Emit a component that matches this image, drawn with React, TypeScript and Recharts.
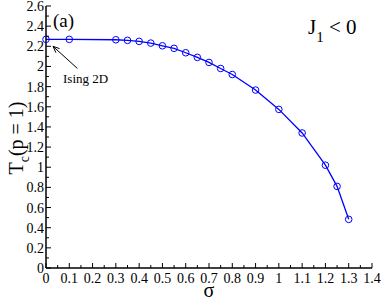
import React from "react";
import { LineChart, Line, XAxis, YAxis, ReferenceLine } from "recharts";

// sigma values and critical temperature Tc(p = 1)
const sigma = [0, 0.1, 0.3, 0.35, 0.4, 0.45, 0.5, 0.55, 0.6, 0.65, 0.7, 0.75, 0.8, 0.9, 1.0, 1.1, 1.2, 1.25, 1.3];
const tc = [2.269, 2.269, 2.265, 2.259, 2.249, 2.232, 2.205, 2.18, 2.136, 2.09, 2.04, 1.98, 1.92, 1.766, 1.574, 1.34, 1.02, 0.81, 0.483];

const xTicks = [0, 0.05, 0.1, 0.15, 0.2, 0.25, 0.3, 0.35, 0.4, 0.45, 0.5, 0.55, 0.6, 0.65, 0.7, 0.75, 0.8, 0.85, 0.9, 0.95, 1, 1.05, 1.1, 1.15, 1.2, 1.25, 1.3, 1.35, 1.4];
const yTicks = [0, 0.1, 0.2, 0.3, 0.4, 0.5, 0.6, 0.7, 0.8, 0.9, 1, 1.1, 1.2, 1.3, 1.4, 1.5, 1.6, 1.7, 1.8, 1.9, 2, 2.1, 2.2, 2.3, 2.4, 2.5, 2.6];

// "Ising 2D" arrow, tail -> head in data units
const arrowFrom = { x: 0.135, y: 1.98 };
const arrowTo = { x: 0.03, y: 2.2 };

const data = sigma.map((s, i) => ({ sigma: s, tc: tc[i] }));

const serif = { fontFamily: "Liberation Serif, DejaVu Serif, serif" };
const BLUE = "#0000ff";

const isMajor = (v: number, step: number) => Math.abs(v / step - Math.round(v / step)) < 1e-6;
const fmt = (v: number) => String(Math.round(v * 10) / 10);

const BottomTick = (props: any) => {
  const { x, y, payload } = props;
  const major = isMajor(payload.value, 0.1);
  return (
    <g>
      <line x1={x} y1={y} x2={x} y2={y - (major ? 5 : 3)} stroke="#000" />
      {major && (
        <text x={x} y={y + 15} textAnchor="middle" style={serif} fontSize={14} fill="#000">
          {fmt(payload.value)}
        </text>
      )}
    </g>
  );
};

const TopTick = (props: any) => {
  const { x, y, payload } = props;
  const major = isMajor(payload.value, 0.1);
  return <line x1={x} y1={y} x2={x} y2={y + (major ? 5 : 3)} stroke="#000" />;
};

const LeftTick = (props: any) => {
  const { x, y, payload } = props;
  const major = isMajor(payload.value, 0.2);
  return (
    <g>
      <line x1={x} y1={y} x2={x + (major ? 5 : 3)} y2={y} stroke="#000" />
      {major && (
        <text x={x - 2} y={y + 5} textAnchor="end" style={serif} fontSize={14} fill="#000">
          {fmt(payload.value)}
        </text>
      )}
    </g>
  );
};

const RightTick = (props: any) => {
  const { x, y, payload } = props;
  const major = isMajor(payload.value, 0.2);
  return <line x1={x} y1={y} x2={x - (major ? 5 : 3)} y2={y} stroke="#000" />;
};

const ArrowShape = (props: any) => {
  const { x1, y1, x2, y2 } = props;
  const ang = Math.atan2(y2 - y1, x2 - x1);
  const len = 7;
  const w = 0.4;
  const p1 = `${x2 - len * Math.cos(ang - w)},${y2 - len * Math.sin(ang - w)}`;
  const p2 = `${x2 - len * Math.cos(ang + w)},${y2 - len * Math.sin(ang + w)}`;
  return (
    <g>
      <line x1={x1} y1={y1} x2={x2} y2={y2} stroke="#000" strokeWidth={1} />
      <polyline points={`${p1} ${x2},${y2} ${p2}`} fill="none" stroke="#000" strokeWidth={1} />
    </g>
  );
};

export default function App() {
  return (
    <div style={{ position: "absolute", left: 0, top: 0, width: 382, height: 300, background: "#fff" }}>
      <LineChart width={382} height={300} data={data} margin={{ top: 6, right: 10, bottom: 0, left: 0 }}>
        <XAxis
          dataKey="sigma"
          type="number"
          domain={[0, 1.4]}
          ticks={xTicks}
          interval={0}
          height={32}
          tickSize={0}
          tickMargin={0}
          tickLine={false}
          tick={<BottomTick />}
          axisLine={{ stroke: "#000", strokeWidth: 1.5 }}
        />
        <XAxis
          xAxisId="top"
          orientation="top"
          type="number"
          domain={[0, 1.4]}
          ticks={xTicks}
          interval={0}
          height={0}
          tickSize={0}
          tickMargin={0}
          tickLine={false}
          tick={<TopTick />}
          axisLine={{ stroke: "#000", strokeWidth: 1.5 }}
        />
        <YAxis
          type="number"
          domain={[0, 2.6]}
          ticks={yTicks}
          interval={0}
          width={46}
          tickSize={0}
          tickMargin={0}
          tickLine={false}
          tick={<LeftTick />}
          axisLine={{ stroke: "#000", strokeWidth: 1.5 }}
        />
        <YAxis
          yAxisId="right"
          orientation="right"
          type="number"
          domain={[0, 2.6]}
          ticks={yTicks}
          interval={0}
          width={0}
          tickSize={0}
          tickMargin={0}
          tickLine={false}
          tick={<RightTick />}
          axisLine={{ stroke: "#000", strokeWidth: 1.5 }}
        />
        <ReferenceLine segment={[arrowFrom, arrowTo]} shape={<ArrowShape />} ifOverflow="visible" />
        <Line
          type="linear"
          dataKey="tc"
          stroke={BLUE}
          strokeWidth={1.3}
          dot={{ r: 3.3, stroke: BLUE, strokeWidth: 1, fill: "none" }}
          isAnimationActive={false}
        />
      </LineChart>
      <svg
        width={382}
        height={300}
        style={{ position: "absolute", left: 0, top: 0, pointerEvents: "none", ...serif }}
      >
        <text x={53} y={27} fontSize={19} fill="#000">(a)</text>
        <text x={308} y={34} fontSize={21} fill="#000">
          J<tspan fontSize={15} dy={8}>1</tspan>
          <tspan dy={-8}> &lt; 0</tspan>
        </text>
        <text x={63} y={83} fontSize={13} fill="#000">Ising 2D</text>
        <text x={209} y={297} fontSize={20} textAnchor="middle" fill="#000">σ</text>
        <text transform="translate(23,138) rotate(-90)" textAnchor="middle" fontSize={20} fill="#000">
          T<tspan fontSize={14} dy={6}>c</tspan>
          <tspan dy={-6}>(p = 1)</tspan>
        </text>
      </svg>
    </div>
  );
}
